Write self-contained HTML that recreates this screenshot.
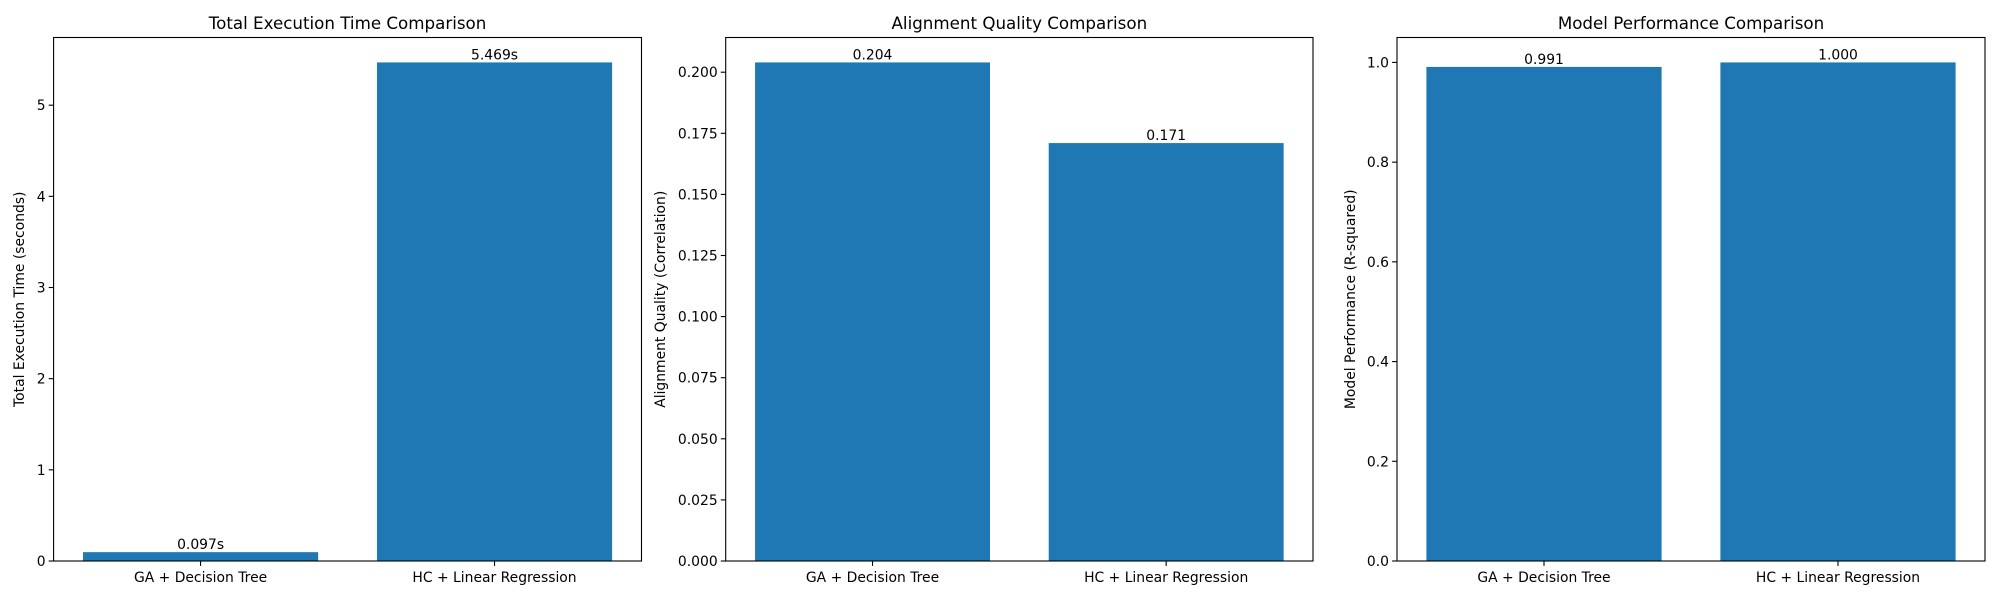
<!DOCTYPE html>
<html><head><meta charset="utf-8"><style>
html,body{margin:0;padding:0;background:#fff;}
svg{display:block;font-family:"DejaVu Sans","Liberation Sans",sans-serif;}
</style></head>
<body>
<svg id="fig" width="2000" height="600" xmlns="http://www.w3.org/2000/svg"></svg>
<script>
const categories = ["GA + Decision Tree", "HC + Linear Regression"];
const timeValues = [0.097, 5.469];
const alignValues = [0.204, 0.171];
const perfValues = [0.991, 1.000];
const timeTicks = [0, 1, 2, 3, 4, 5];
const alignTicks = [0, 0.025, 0.05, 0.075, 0.1, 0.125, 0.15, 0.175, 0.2];
const perfTicks = [0, 0.2, 0.4, 0.6, 0.8, 1.0];
const titles = ["Total Execution Time Comparison", "Alignment Quality Comparison", "Model Performance Comparison"];
const yTitles = ["Total Execution Time (seconds)", "Alignment Quality (Correlation)", "Model Performance (R-squared)"];

const NS = "http://www.w3.org/2000/svg";
const svg = document.getElementById('fig');
function mk(tag, attrs, parent, text){
  const e = document.createElementNS(NS, tag);
  for (const k in attrs) e.setAttribute(k, attrs[k]);
  if (text !== undefined) e.textContent = text;
  (parent || svg).appendChild(e);
  return e;
}
const panels = [
  {x0:53.6, x1:641.5, vals:timeValues, ticks:timeTicks, fmt:t=>String(t), lab:v=>v.toFixed(3)+"s", ylx:20, name:"time"},
  {x0:725.7, x1:1313, vals:alignValues, ticks:alignTicks, fmt:t=>t.toFixed(3), lab:v=>v.toFixed(3), ylx:661, name:"alignment"},
  {x0:1397, x1:1985, vals:perfValues, ticks:perfTicks, fmt:t=>t.toFixed(1), lab:v=>v.toFixed(3), ylx:1351, name:"performance"}
];
const y0 = 37.5, y1 = 561;
panels.forEach((p, i) => {
  const g = mk('g', {});
  
  
  const ymax = Math.max(...p.vals) * 1.05;
  const ys = v => y1 - (v / ymax) * (y1 - y0);
  const xs = c => p.x0 + (c + 0.5) / 2 * (p.x1 - p.x0);
  const bw = 0.8 / 2 * (p.x1 - p.x0);
  p.vals.forEach((v, j) => {
    const r = mk('rect', {x: xs(j) - bw/2, y: ys(v), width: bw, height: y1 - ys(v), fill: '#1f77b4'}, g);
    
    
    const t = mk('text', {x: xs(j), y: ys(v) - 3, 'text-anchor': 'middle', 'font-size': '13.9', fill: '#000'}, g, p.lab(v));
    
    
  });
  p.ticks.forEach(tv => {
    const y = ys(tv);
    mk('line', {x1: p.x0 - 4.9, x2: p.x0, y1: y, y2: y, stroke: '#000', 'stroke-width': 1.1}, g);
    const t = mk('text', {x: p.x0 - 8, y: y + 5, 'text-anchor': 'end', 'font-size': '13.9'}, g, p.fmt(tv));
    
    
  });
  categories.forEach((c, j) => {
    mk('line', {x1: xs(j), x2: xs(j), y1: y1, y2: y1 + 4.9, stroke: '#000', 'stroke-width': 1.1}, g);
    const t = mk('text', {x: xs(j), y: y1 + 21, 'text-anchor': 'middle', 'font-size': '13.9'}, g, c);
    
    
  });
  const fr = mk('rect', {x: p.x0, y: y0, width: p.x1 - p.x0, height: y1 - y0, fill: 'none', stroke: '#000', 'stroke-width': 1.1}, g);
  
  
  const tt = mk('text', {x: (p.x0 + p.x1) / 2, y: 29, 'text-anchor': 'middle', 'font-size': '16.7'}, g, titles[i]);
  
  
  const yc = (y0 + y1) / 2;
  const yl = mk('text', {x: p.ylx, y: yc, 'text-anchor': 'middle', 'dominant-baseline': 'central', 'font-size': '13.9', transform: `rotate(-90 ${p.ylx} ${yc})`}, g, yTitles[i]);
  
  
});
</script>
</body></html>
